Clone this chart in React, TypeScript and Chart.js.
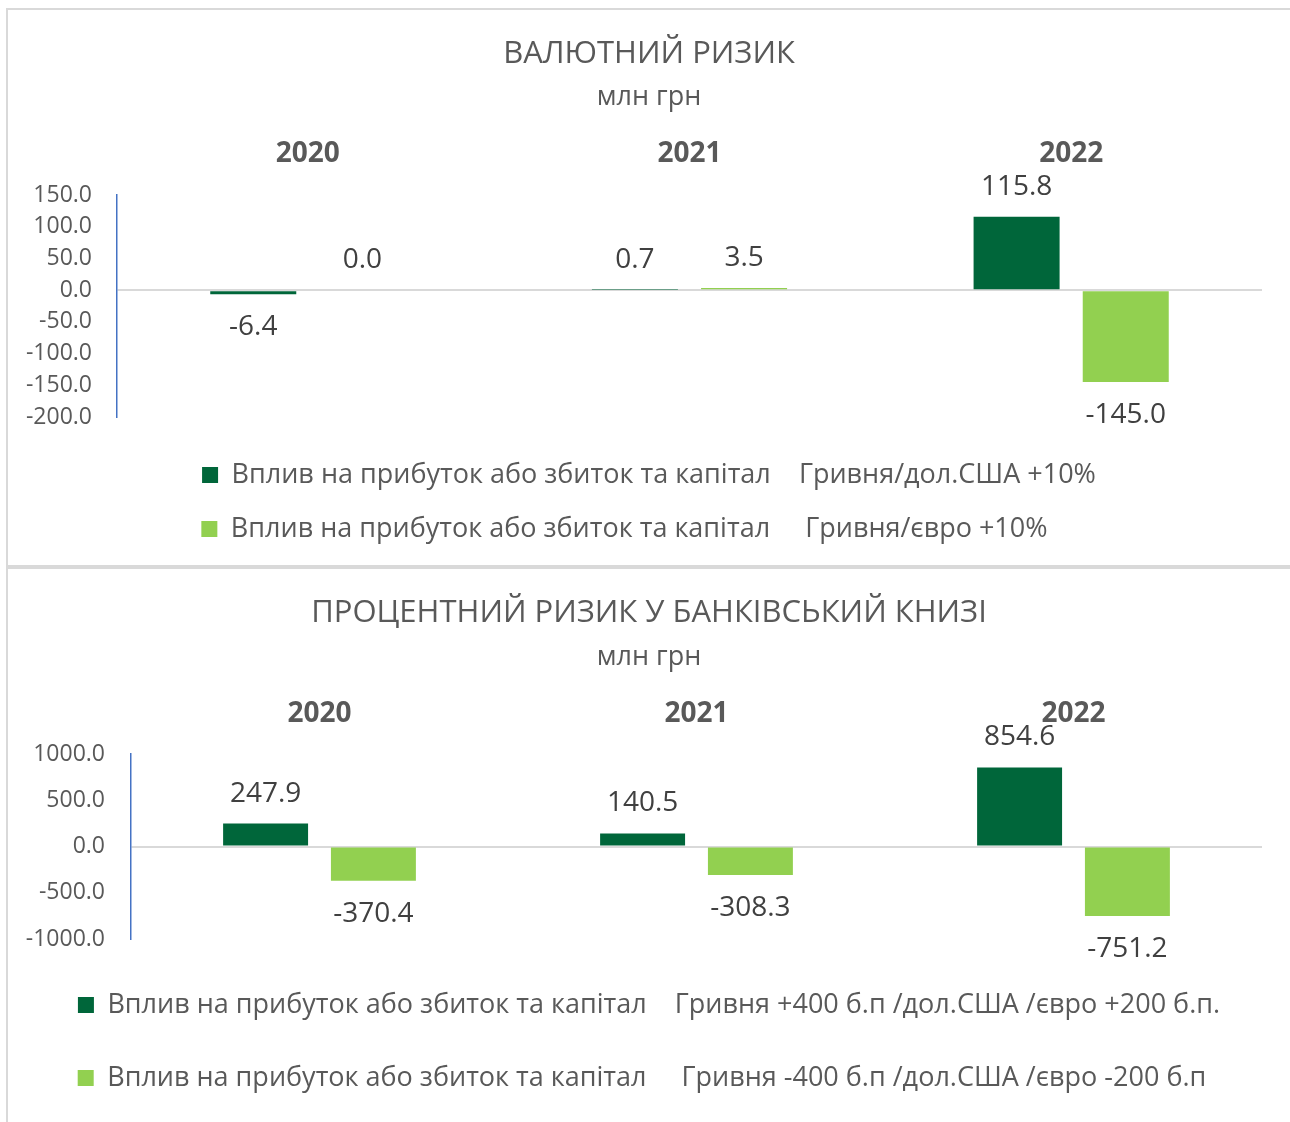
import React, { useEffect, useRef } from 'react';
import { Chart, registerables } from 'chart.js';

Chart.register(...registerables);

// ---------- data ----------
const categories = ['2020', '2021', '2022'];

const fxTitle = 'ВАЛЮТНИЙ РИЗИК';
const fxSubtitle = 'млн грн';
const fxSeriesLabels = [
  'Вплив на прибуток або збиток та капітал    Гривня/дол.США +10%',
  'Вплив на прибуток або збиток та капітал     Гривня/євро +10%',
];
const fxUsd = [-6.4, 0.7, 115.8];
const fxEur = [0.0, 3.5, -145.0];
const fxAxis = [-200, 150, 50]; // min, max, step

const irTitle = 'ПРОЦЕНТНИЙ РИЗИК У БАНКІВСЬКИЙ КНИЗІ';
const irSubtitle = 'млн грн';
const irSeriesLabels = [
  'Вплив на прибуток або збиток та капітал    Гривня +400 б.п /дол.США /євро +200 б.п.',
  'Вплив на прибуток або збиток та капітал     Гривня -400 б.п /дол.США /євро -200 б.п',
];
const irUp = [247.9, 140.5, 854.6];
const irDown = [-370.4, -308.3, -751.2];
const irAxis = [-1000, 1000, 500];

// ---------- styles ----------
const FONT = "'Open Sans', sans-serif";
const DARK = '#00663A';
const LIGHT = '#92D050';
const TEXT = '#595959';
const LABEL = '#404040';
const LEGEND_SIZE = 27;

const valueLabels = {
  id: 'valueLabels',
  afterDatasetsDraw(chart: any) {
    const ctx = chart.ctx;
    ctx.save();
    ctx.font = `normal 28px ${FONT}`;
    ctx.fillStyle = LABEL;
    ctx.textAlign = 'center';
    ctx.textBaseline = 'middle';
    chart.data.datasets.forEach((ds: any, di: number) => {
      const meta = chart.getDatasetMeta(di);
      meta.data.forEach((bar: any, i: number) => {
        const v = ds.data[i] as number;
        const y = v >= 0 ? bar.y - 30 : bar.y + 33;
        ctx.fillText(v.toFixed(1), bar.x, y);
      });
    });
    ctx.restore();
  },
};

function padLabels(chart: any) {
  const items = (Chart.defaults as any).plugins.legend.labels.generateLabels(chart);
  const ctx = chart.ctx;
  ctx.save();
  ctx.font = `normal normal ${LEGEND_SIZE}px ${FONT}`;
  const max = Math.max(...items.map((it: any) => ctx.measureText(it.text).width));
  items.forEach((it: any) => {
    let n = 0;
    while (ctx.measureText(it.text).width < max - 2 && n < 200) {
      it.text += ' ';
      n++;
    }
  });
  ctx.restore();
  return items;
}

type PanelProps = {
  title: string;
  subtitle: string;
  labels: string[];
  a: number[];
  b: number[];
  axis: number[];
  width: number;
  height: number;
  titleTop: number;
  subTop: number;
  subBottom: number;
  xPad: number;
  yWidth: number;
  yPad: number;
  legendGap: number;
  legendPad: number;
  padBottom: number;
};

function BarPanel(p: PanelProps) {
  const ref = useRef<HTMLCanvasElement>(null);
  useEffect(() => {
    if (!ref.current) return;
    const chart = new Chart(ref.current, {
      type: 'bar',
      data: {
        labels: categories,
        datasets: [
          {
            label: p.labels[0],
            data: p.a,
            backgroundColor: DARK,
            categoryPercentage: 0.572,
            barPercentage: 0.788,
          },
          {
            label: p.labels[1],
            data: p.b,
            backgroundColor: LIGHT,
            categoryPercentage: 0.572,
            barPercentage: 0.788,
          },
        ],
      },
      options: {
        responsive: false,
        animation: false,
        layout: { padding: { left: 0, right: 0, top: 0, bottom: p.padBottom } },
        plugins: {
          title: {
            display: true,
            text: p.title,
            color: TEXT,
            font: { family: FONT, size: 31, weight: 'normal' },
            padding: { top: p.titleTop, bottom: 0 },
          },
          subtitle: {
            display: true,
            text: p.subtitle,
            color: TEXT,
            font: { family: FONT, size: 27, weight: 'normal' },
            padding: { top: p.subTop, bottom: p.subBottom },
          },
          legend: {
            position: 'bottom',
            title: {
              display: true,
              text: ' ',
              font: { size: 1 },
              padding: { top: p.legendGap, bottom: 0 },
            },
            labels: {
              color: TEXT,
              font: { family: FONT, size: LEGEND_SIZE },
              boxWidth: 16,
              boxHeight: 16,
              padding: p.legendPad,
              generateLabels: padLabels,
            },
          },
          tooltip: { enabled: false },
        },
        scales: {
          x: {
            position: 'top',
            grid: { display: false, drawTicks: false },
            border: { display: false },
            ticks: {
              color: TEXT,
              font: { family: FONT, size: 28, weight: 'bold' },
              padding: p.xPad,
            },
          },
          y: {
            min: p.axis[0],
            max: p.axis[1],
            afterFit: (s: any) => {
              s.width = p.yWidth;
            },
            ticks: {
              stepSize: p.axis[2],
              color: TEXT,
              font: { family: FONT, size: 23 },
              padding: p.yPad,
              callback: (v: any) => Number(v).toFixed(1),
            },
            grid: {
              drawTicks: false,
              color: (c: any) => (c.tick && c.tick.value === 0 ? '#D9D9D9' : 'rgba(0,0,0,0)'),
              lineWidth: 2,
            },
            border: { display: true, color: '#4472C4', width: 1.5 },
          },
          // empty right-hand spacer axis, keeps the plot 28px from the right edge
          ySpacer: {
            position: 'right',
            display: true,
            afterFit: (s: any) => {
              s.width = 28;
            },
            grid: { display: false, drawTicks: false },
            border: { display: false },
            ticks: { display: false },
          },
        },
      } as any,
      plugins: [valueLabels],
    });
    return () => chart.destroy();
  }, []);
  return <canvas ref={ref} width={p.width} height={p.height} style={{ display: 'block' }} />;
}

export default function App() {
  return (
    <div
      style={{
        position: 'fixed',
        left: 6,
        top: 8,
        width: 1284,
        height: 1114,
        overflow: 'hidden',
        background: '#fff',
      }}
    >
      <div style={{ border: '2px solid #D9D9D9', width: 1282, height: 555 }}>
        <BarPanel
          title={fxTitle}
          subtitle={fxSubtitle}
          labels={fxSeriesLabels}
          a={fxUsd}
          b={fxEur}
          axis={fxAxis}
          width={1282}
          height={555}
          titleTop={25.2}
          subTop={8.8}
          subBottom={0}
          xPad={23.9}
          yWidth={109}
          yPad={25}
          legendGap={16.3}
          legendPad={27}
          padBottom={12.5}
        />
      </div>
      <div style={{ border: '2px solid #D9D9D9', width: 1282, height: 553 }}>
        <BarPanel
          title={irTitle}
          subtitle={irSubtitle}
          labels={irSeriesLabels}
          a={irUp}
          b={irDown}
          axis={irAxis}
          width={1282}
          height={553}
          titleTop={25.2}
          subTop={10}
          subBottom={0.2}
          xPad={23.2}
          yWidth={123}
          yPad={26}
          legendGap={5.3}
          legendPad={46}
          padBottom={20.5}
        />
      </div>
    </div>
  );
}
